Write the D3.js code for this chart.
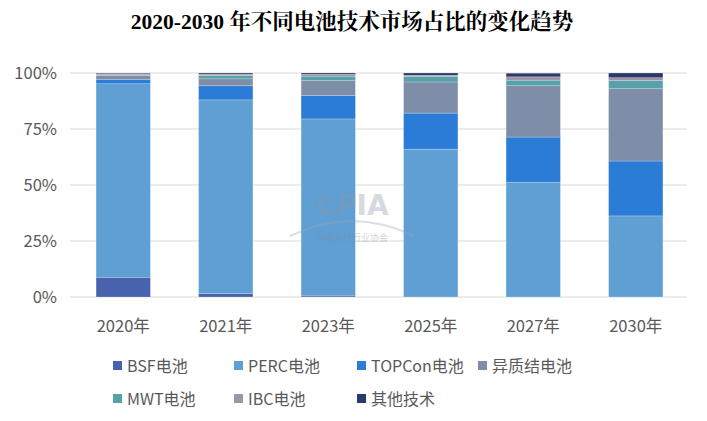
<!DOCTYPE html>
<html><head><meta charset="utf-8">
<script src="https://cdn.jsdelivr.net/npm/d3@7/dist/d3.min.js"></script>
<style>body{margin:0;background:#fff}svg{display:block}</style>
</head><body><svg id="c" width="707" height="421"></svg>
<script>
const categories = ["2020年","2021年","2023年","2025年","2027年","2030年"];
const seriesNames = ["BSF电池","PERC电池","TOPCon电池","异质结电池","MWT电池","IBC电池","其他技术"];
const bsf     = [8.8, 1.5, 0.5, 0,    0,    0];
const perc    = [86.4,86.5,79.0,66.0, 51.3, 36.2];
const topcon  = [1.8, 6.3, 10.4,16.1, 20.1, 24.5];
const hjt     = [1.9, 3.1, 6.7, 13.9, 22.9, 32.3];
const mwt     = [0.3, 1.5, 2.0, 2.5,  2.5,  3.7];
const ibc     = [0.5, 0.6, 0.8, 0.5,  1.5,  1.2];
const other   = [0.3, 0.5, 0.6, 1.0,  1.6,  2.1];
const yTicks  = [0,25,50,75,100];
const colors  = ["#4862ae","#609fd3","#2b7cd7","#7f8ea8","#58a1a8","#9d94a6","#2a3a6b"];

const seriesValues = [bsf,perc,topcon,hjt,mwt,ibc,other];
const rows = categories.map((c,i)=>{const r={cat:c};seriesNames.forEach((s,j)=>r[s]=seriesValues[j][i]);return r;});
const stack = d3.stack().keys(seriesNames)(rows);

const svg = d3.select("#c");
const x = d3.scaleBand().domain(categories).range([72,687]).paddingInner(0.47).paddingOuter(0.235);
const y = d3.scaleLinear().domain([0,100]).range([297,73]);
const font = "'Noto Sans CJK SC','Noto Sans',sans-serif";

svg.append("text").attr("x",352).attr("y",29).attr("text-anchor","middle")
  .attr("font-family","'Liberation Serif','Noto Serif CJK SC','Noto Sans CJK SC',serif")
  .attr("font-weight","bold").attr("font-size",21.5).attr("fill","#000")
  .text("2020-2030 年不同电池技术市场占比的变化趋势");

// gridlines
svg.append("g").selectAll("line").data(yTicks).join("line")
  .attr("x1",70).attr("x2",687).attr("y1",d=>y(d)).attr("y2",d=>y(d))
  .attr("stroke","#d9d9d9").attr("stroke-width",1.2);

// y labels
svg.append("g").selectAll("text").data(yTicks).join("text")
  .attr("x",57).attr("y",d=>y(d)+6).attr("text-anchor","end")
  .attr("font-family",font).attr("font-size",16.5).attr("fill","#595959")
  .text(d=>d+"%");

// bars
svg.append("g").selectAll("g").data(stack).join("g")
  .attr("fill",(d,i)=>colors[i])
  .selectAll("rect").data(d=>d).join("rect")
  .attr("x",d=>x(d.data.cat)).attr("width",x.bandwidth())
  .attr("y",d=>y(d[1])).attr("height",d=>Math.max(0,y(d[0])-y(d[1])))
  .attr("stroke","#ffffff").attr("stroke-opacity",0.35).attr("stroke-width",0.6);

// x labels
svg.append("g").selectAll("text").data(categories).join("text")
  .attr("x",d=>x(d)+x.bandwidth()/2).attr("y",332).attr("text-anchor","middle")
  .attr("font-family",font).attr("font-size",16.5).attr("fill","#595959")
  .text(d=>d);

// watermark
const wm = svg.append("g").attr("opacity",0.35);
wm.append("text").attr("x",352).attr("y",215).attr("text-anchor","middle")
  .attr("font-family","'DejaVu Sans'").attr("font-weight","bold").attr("font-size",28)
  .attr("fill","#8a97a8").text("CPIA");
wm.append("path").attr("d","M290,236 Q352,206 414,236").attr("fill","none")
  .attr("stroke","#9aa5b3").attr("stroke-width",2);
wm.append("text").attr("x",352).attr("y",241).attr("text-anchor","middle")
  .attr("font-family",font).attr("font-size",9).attr("fill","#7f8a99").text("中国光伏行业协会");

// legend
const legPos = [[113,366],[234,366],[357,366],[478,366],[113,399],[234,399],[357,399]];
const leg = svg.append("g").selectAll("g").data(seriesNames).join("g")
  .attr("transform",(d,i)=>`translate(${legPos[i][0]},${legPos[i][1]})`);
leg.append("rect").attr("x",0).attr("y",-5).attr("width",9).attr("height",9)
  .attr("fill",(d,i)=>colors[i]);
leg.append("text").attr("x",14).attr("y",6).attr("font-family",font)
  .attr("font-size",16).attr("fill","#595959").text(d=>d);
</script></body></html>
